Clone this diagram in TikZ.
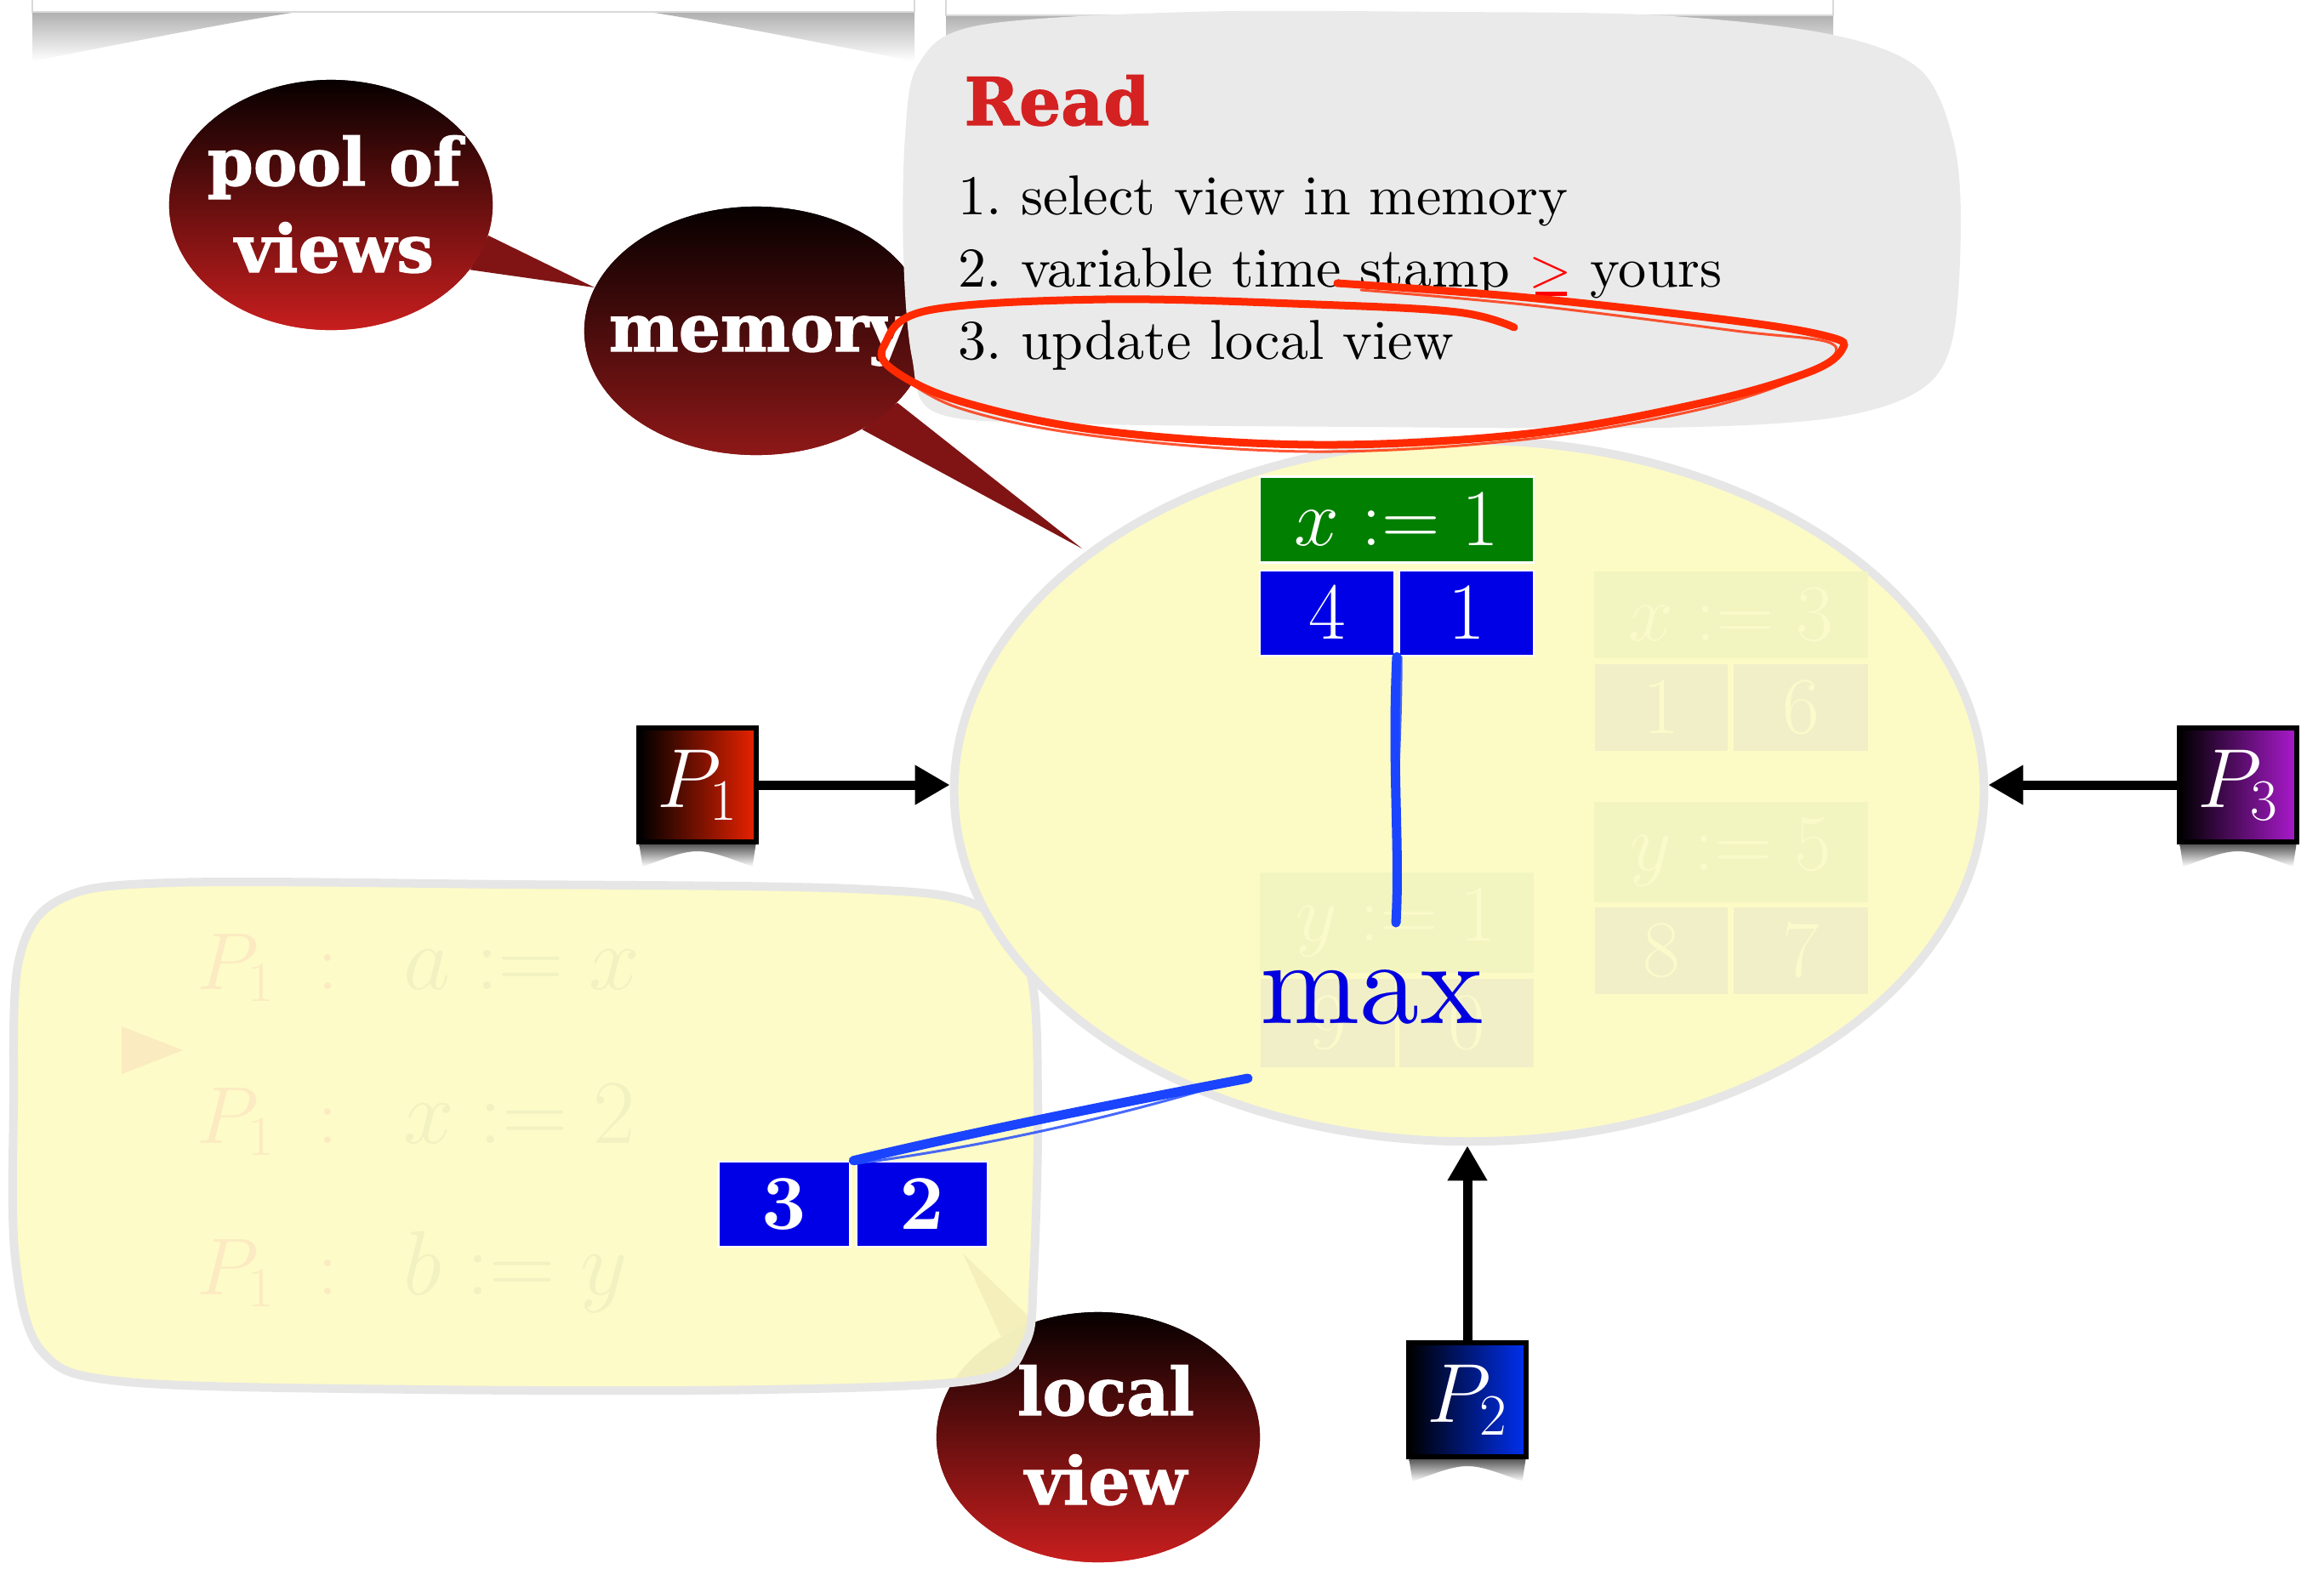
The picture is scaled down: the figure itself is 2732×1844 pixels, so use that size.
\RequirePackage{fix-cm}
\documentclass[tikz,border=0pt]{standalone}
\usepackage{fontspec}
\usetikzlibrary{arrows.meta,shapes.geometric,calc}
\newfontfamily\slabfont{DejaVu Serif}[BoldFeatures={FakeBold=1.6}]
\newfontfamily\lmten{lmroman10-regular.otf}[BoldFont=lmroman10-bold.otf]
\frenchspacing
\definecolor{bgyellow}{HTML}{FDFBC5}
\definecolor{yborder}{HTML}{E6E6E6}
\definecolor{graybox}{HTML}{EAEAEA}
\definecolor{readred}{HTML}{D42222}
\definecolor{scrred}{HTML}{FF2A00}
\definecolor{scrblue}{HTML}{1A44FF}
\definecolor{boxgreen}{HTML}{007F00}
\definecolor{boxblue}{HTML}{0000E6}
\definecolor{maxblue}{HTML}{0000E0}
\definecolor{fadegreen}{HTML}{F2F5C0}
\definecolor{fadeblue}{HTML}{F1EFC8}
\definecolor{fadetext}{HTML}{FBFACB}
\definecolor{fadeP}{HTML}{FCEAC2}
\definecolor{fademath}{HTML}{F1F1C2}
\definecolor{fadetri}{HTML}{FBEBC0}
\definecolor{bubtop}{HTML}{070000}
\definecolor{bubred}{HTML}{C81E1E}
\definecolor{memred}{HTML}{8E1818}
\definecolor{tailred}{HTML}{801414}
\definecolor{ponered}{HTML}{E82200}
\definecolor{ptwoblue}{HTML}{0030F0}
\definecolor{pthreepur}{HTML}{AA1ACC}
\tikzset{
  bubtxt/.style={anchor=base, inner sep=0pt, text=white, font=\slabfont\bfseries\fontsize{22}{26}\selectfont},
  bubble/.style={ellipse, inner sep=0pt, top color=bubtop, bottom color=bubred},
  pbox/.style={draw=black, line width=0.06cm, minimum width=1.37cm, minimum height=1.34cm, inner sep=0pt, text=white, font=\fontsize{28}{28}\selectfont},
  cell/.style={draw=white, line width=0.025cm, text=white, inner sep=0pt, font=\fontsize{27}{27}\selectfont},
  fcell/.style={inner sep=0pt, text=fadetext, font=\fontsize{27}{27}\selectfont},
  listtxt/.style={anchor=base west, inner sep=0pt, font=\lmten\fontsize{18.8}{21}\selectfont},
  arrowln/.style={line width=0.11cm, -{Triangle[length=0.41cm,width=0.44cm]}},
  scrib/.style={draw=scrblue, line width=0.11cm, line cap=round},
  scribthin/.style={draw=scrblue, line width=0.03cm, line cap=round, opacity=0.8},
  pshadow/.style={top color=black!65, bottom color=white}
}
\begin{document}
\begin{tikzpicture}[x=0.01cm,y=-0.01cm]
\useasboundingbox[fill=white] (0,0) rectangle (2732,1844);

% top panels with shadows
\shade[top color=black!55, bottom color=white] (38,14) -- (1075,14) -- (1075,72) .. controls (556,-30) .. (38,72) -- cycle;
\shade[top color=black!55, bottom color=white] (1112,18) -- (2155,18) -- (2155,74) .. controls (1633,-26) .. (1112,74) -- cycle;
\draw[draw=black!15, fill=white, line width=0.02cm] (38,-20) rectangle (1075,14);
\draw[draw=black!15, fill=white, line width=0.02cm] (1112,-20) rectangle (2155,18);

% bubbles
\coordinate (memtip) at (1272,645);
\node[bubble, bottom color=memred, minimum width=4.04cm, minimum height=2.92cm] (memory) at (889,389) {};
\node[bubble, minimum width=3.8cm, minimum height=2.94cm] (pool) at (389,241) {};
\fill[tailred] (pool.-11) -- (memory.165) -- (pool.-25) -- cycle;
\node[bubble, minimum width=3.8cm, minimum height=2.94cm] (pool2) at (pool) {};
\fill[tailred] (memory.-27) -- (memtip) -- (memory.-43) -- cycle;
\node[bubble, bottom color=memred, minimum width=4.04cm, minimum height=2.92cm] (memory2) at (memory) {};
\node[bubtxt] (pooltxta) at (393,218) {pool of};
\node[bubtxt] (pooltxtb) at (393,320) {views};
\node[bubtxt] (memtxt) at (891,413) {memory};

% Read callout
\fill[graybox] plot[smooth cycle, tension=0.55] coordinates {(1064,160) (1080,75) (1150,30) (1400,14) (1700,14) (1950,18) (2150,40) (2255,80) (2295,160) (2305,260) (2295,400) (2255,460) (2150,492) (1950,503) (1600,502) (1250,498) (1100,485) (1072,420) (1062,300)};
\node[anchor=base west, inner sep=0pt, text=readred, font=\slabfont\bfseries\fontsize{22}{26}\selectfont] (readtitle) at (1133,147) {Read};
\node[listtxt] (l1) at (1126,252) {1. select view in memory};
\node[listtxt] (l2) at (1126,337) {2. variable time stamp \textcolor{red}{\rlap{\hspace{0.11em}\rule[-0.16em]{0.56em}{0.07em}}$>$} yours};
\node[listtxt] (l3) at (1126,422) {3. update local view};

% local view bubble
\coordinate (lvtip) at (1132,1474);
\node[bubble, minimum width=3.8cm, minimum height=2.94cm] (lv) at (1291,1690) {};
\fill[tailred!80!black] (lv.119) -- (lvtip) -- (lv.134) -- cycle;
\node[bubble, minimum width=3.8cm, minimum height=2.94cm] (lv2) at (lv) {};
\node[bubtxt] (lvtxta) at (1300,1664) {local};
\node[bubtxt] (lvtxtb) at (1300,1769) {view};

% left yellow panel
\draw[draw=yborder, fill=bgyellow, fill opacity=0.95, line width=0.1cm] plot[smooth cycle, tension=0.55] coordinates {(16,1300) (22,1130) (70,1058) (200,1038) (600,1040) (1000,1045) (1150,1065) (1210,1140) (1220,1300) (1215,1500) (1205,1580) (1150,1622) (900,1634) (500,1634) (150,1625) (50,1590) (18,1480)};
\fill[fadetri] (143,1207) -- (215,1235) -- (143,1263) -- cycle;
\foreach \y/\lhs/\rhs [count=\i] in {1163/a/x, 1344/x/2, 1522/b/y}{
  \node[anchor=base west, inner sep=0pt, font=\fontsize{27}{27}\selectfont] (fl\i) at (231,\y)
    {\textcolor{fadeP}{$P_1\hspace{14pt}{:}$}\hspace{22pt}\textcolor{fademath}{\fontsize{30.5}{30}\selectfont$\lhs := \rhs$}};
}

% main ellipse
\node[ellipse, draw=yborder, line width=0.1cm, fill=bgyellow, minimum width=12.1cm, minimum height=8.24cm, inner sep=0pt] (mainell) at (1727,930) {};
\node[fcell, fill=fadegreen, minimum width=3.21cm, minimum height=1.02cm] (fx3) at (2035,723) {$x := 3$};
\node[fcell, fill=fadeblue, minimum width=1.56cm, minimum height=1.02cm] (f1) at (1953,832) {$1$};
\node[fcell, fill=fadeblue, minimum width=1.58cm, minimum height=1.02cm] (f6) at (2117,832) {$6$};
\node[fcell, fill=fadegreen, minimum width=3.21cm, minimum height=1.17cm] (fy5) at (2035,1002) {$y := 5$};
\node[fcell, fill=fadeblue, minimum width=1.56cm, minimum height=1.01cm] (f8) at (1953,1118) {$8$};
\node[fcell, fill=fadeblue, minimum width=1.58cm, minimum height=1.01cm] (f7) at (2117,1118) {$7$};
\node[fcell, fill=fadegreen, minimum width=3.21cm, minimum height=1.17cm] (fy1) at (1642,1085) {$y := 1$};
\node[fcell, fill=fadeblue, minimum width=1.58cm, minimum height=1.03cm] (f9) at (1561,1203) {$9$};
\node[fcell, fill=fadeblue, minimum width=1.58cm, minimum height=1.03cm] (f0) at (1724,1203) {$0$};
\node[cell, fill=boxgreen, minimum width=3.22cm, minimum height=1.01cm] (gx1) at (1642,611) {$x := 1$};
\node[cell, fill=boxblue, minimum width=1.58cm, minimum height=1.0cm] (b4) at (1560,721) {$4$};
\node[cell, fill=boxblue, minimum width=1.58cm, minimum height=1.0cm] (b1) at (1724,721) {$1$};
\node[anchor=base west, inner sep=0pt, text=maxblue, font=\lmten\fontsize{40}{40}\selectfont] (maxt) at (1481,1203) {max};

% local view cells
\node[cell, fill=boxblue, minimum width=1.55cm, minimum height=1.0cm, font=\lmten\bfseries\fontsize{26}{26}\selectfont] (c3) at (922,1416) {3};
\node[cell, fill=boxblue, minimum width=1.54cm, minimum height=1.0cm, font=\lmten\bfseries\fontsize{26}{26}\selectfont] (c2) at (1084,1416) {2};

% blue scribbles
\coordinate (s1a) at ($(b4.south east)!0.5!(b1.south west)$);
\coordinate (s1b) at (1641,1085);
\coordinate (s2a) at ($(c3.north east)!0.5!(c2.north west)$);
\coordinate (s2b) at (1467,1268);
\draw[scrib] (s1a) .. controls (1636,900) and (1646,1000) .. (s1b);
\draw[scribthin] ([xshift=0.05cm]s1a) .. controls (1648,880) and (1636,990) .. ([xshift=0.04cm]s1b);
\draw[scrib] (s2a) .. controls (1150,1330) and (1300,1300) .. (s2b);
\draw[scribthin] ([yshift=-0.04cm]s2a) .. controls (1160,1348) and (1320,1312) .. ([yshift=0.02cm]s2b);

% red scribble ellipse
\draw[scrred, line width=0.09cm, line cap=round] plot[smooth, tension=0.6] coordinates {(1572,333) (1796,350) (2045,378) (2150,396) (2166,410) (2128,437) (2004,473) (1796,510) (1547,523) (1299,507) (1133,473) (1050,435) (1040,405) (1091,365) (1299,352) (1547,358) (1713,367) (1780,385)};
\draw[scrred, line width=0.03cm, line cap=round, opacity=0.8] plot[smooth, tension=0.6] coordinates {(1600,341) (1800,359) (2040,389) (2155,405) (2120,441) (2000,481) (1790,517) (1540,531) (1290,513) (1125,479) (1046,432)};

% processes
\node[pbox, left color=black, right color=ponered] (P1) at (820,923) {$P_1$};
\node[pbox, left color=black, right color=ptwoblue] (P2) at (1725,1646) {$P_2$};
\node[pbox, left color=black, right color=pthreepur] (P3) at (2631,923) {$P_3$};
\foreach \n in {P1,P2,P3}{
  \shade[pshadow] ([xshift=0.03cm]\n.south west) -- ([xshift=-0.03cm]\n.south east) -- ([xshift=-0.07cm,yshift=-0.26cm]\n.south east) .. controls ([yshift=-0.02cm]\n.south) .. ([xshift=0.07cm,yshift=-0.26cm]\n.south west) -- cycle;
}
\draw[arrowln] (P1.east) -- (P1.east -| mainell.west);
\draw[arrowln] (P3.west) -- (P3.west -| mainell.east);
\draw[arrowln] (P2.north) -- (P2.north |- mainell.south);
\end{tikzpicture}
\end{document}
